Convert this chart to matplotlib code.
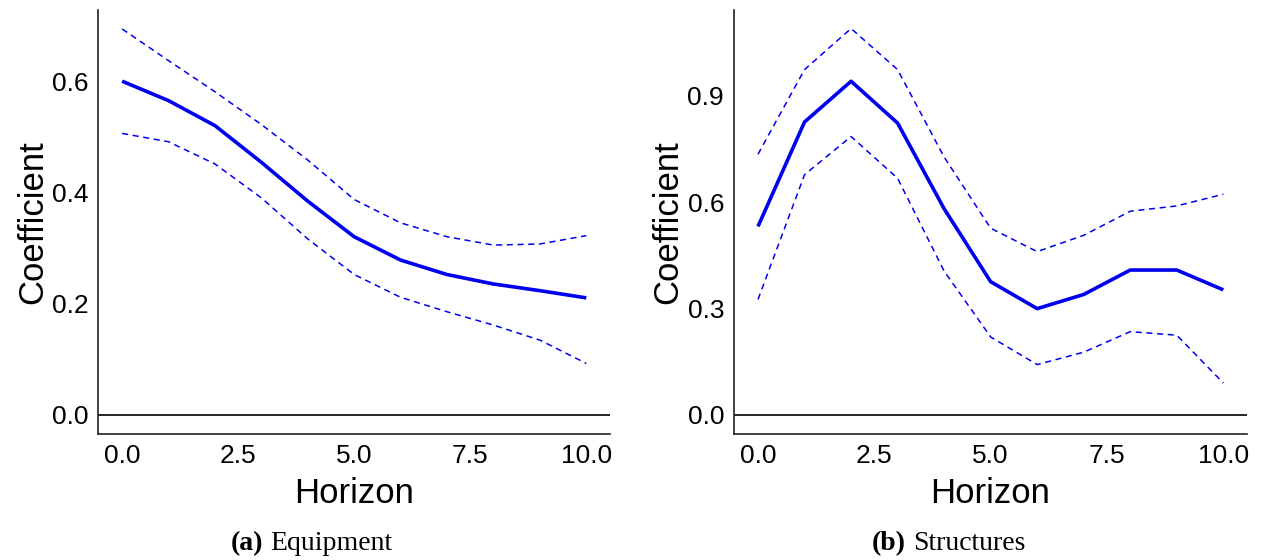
import matplotlib.pyplot as plt

# horizons 0..10
horizon = [0, 1, 2, 3, 4, 5, 6, 7, 8, 9, 10]

# (a) Equipment
equip_coef = [0.600, 0.565, 0.520, 0.454, 0.384, 0.320, 0.278, 0.252, 0.235, 0.223, 0.210]
equip_upper = [0.694, 0.637, 0.581, 0.522, 0.458, 0.387, 0.345, 0.320, 0.305, 0.307, 0.322]
equip_lower = [0.506, 0.491, 0.451, 0.390, 0.316, 0.252, 0.211, 0.185, 0.161, 0.134, 0.092]

# (b) Structures
struct_coef = [0.531, 0.826, 0.941, 0.823, 0.581, 0.375, 0.299, 0.339, 0.408, 0.408, 0.352]
struct_upper = [0.735, 0.974, 1.090, 0.974, 0.727, 0.526, 0.460, 0.506, 0.574, 0.589, 0.622]
struct_lower = [0.325, 0.677, 0.785, 0.667, 0.405, 0.219, 0.141, 0.176, 0.234, 0.224, 0.089]

x_ticks = [0.0, 2.5, 5.0, 7.5, 10.0]
equip_yticks = [0.0, 0.2, 0.4, 0.6]
struct_yticks = [0.0, 0.3, 0.6, 0.9]

plt.rcParams['font.family'] = ['Liberation Sans', 'DejaVu Sans']
serif = ['Liberation Serif', 'DejaVu Serif']

fig = plt.figure(figsize=(12.63, 5.6), dpi=100)
ax1 = fig.add_axes([0.0776, 0.225, 0.405, 0.757])
ax2 = fig.add_axes([0.581, 0.225, 0.406, 0.757])
captions = []


def draw_panel(ax, coef, upper, lower, yticks, ylim, caption_letter, caption_name, cx):
    ax.axhline(0, color='black', lw=1.2, zorder=1)
    ax.plot(horizon, coef, color='#0000ee', lw=2.6, solid_capstyle='butt', zorder=3)
    ax.plot(horizon, upper, color='#0000ee', lw=1.1, ls=(0, (4, 3)), zorder=2)
    ax.plot(horizon, lower, color='#0000ee', lw=1.1, ls=(0, (4, 3)), zorder=2)
    ax.set_xlim(-0.52, 10.5)
    ax.set_ylim(*ylim)
    ax.set_xticks(x_ticks)
    ax.set_xticklabels([f"{t:.1f}" for t in x_ticks])
    ax.set_yticks(yticks)
    ax.set_yticklabels([f"{t:.1f}" for t in yticks])
    ax.tick_params(length=0, labelsize=19, pad=7)
    for s in ['top', 'right']:
        ax.spines[s].set_visible(False)
    for s in ['left', 'bottom']:
        ax.spines[s].set_linewidth(1.2)
        ax.spines[s].set_color('#222222')
    ax.set_xlabel('Horizon', fontsize=25, labelpad=7)
    ax.set_ylabel('Coefficient', fontsize=25, labelpad=2)
    t1 = fig.text(cx, 0.03, caption_letter, fontsize=20, fontweight='bold',
                  family=serif, ha='left', va='center')
    t2 = fig.text(cx, 0.03, caption_name, fontsize=20,
                  family=serif, ha='left', va='center')
    captions.append((t1, t2, cx))


draw_panel(ax1, equip_coef, equip_upper, equip_lower, equip_yticks, (-0.035, 0.728),
           '(a)', 'Equipment', 0.247)
draw_panel(ax2, struct_coef, struct_upper, struct_lower, struct_yticks, (-0.055, 1.142),
           '(b)', 'Structures', 0.751)

# centre each caption (bold letter + name) on its x
fig.canvas.draw()
r = fig.canvas.get_renderer()
W = fig.get_figwidth() * fig.dpi
gap = 7
for t1, t2, cx in captions:
    w1 = t1.get_window_extent(r).width
    w2 = t2.get_window_extent(r).width
    start = cx * W - (w1 + gap + w2) / 2
    t1.set_x(start / W)
    t2.set_x((start + w1 + gap) / W)

fig.savefig('out.png', dpi=100)
